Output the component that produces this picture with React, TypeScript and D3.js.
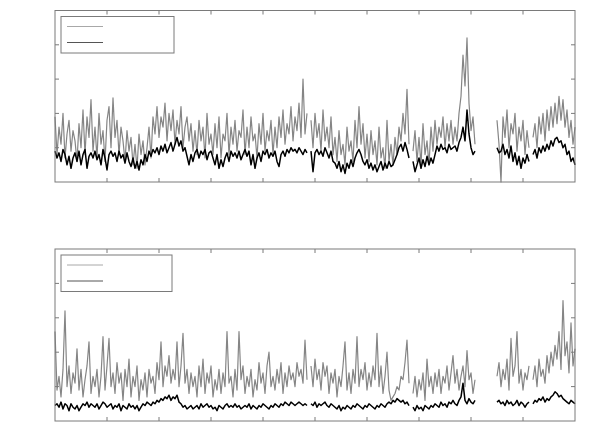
import { line, scaleLinear } from 'd3';

const width = 589;
const height = 439;
const left = 55;
const right = 575;

// y values of the two traces in each panel, sampled evenly; null = no data
const topGrey = [
  1.9, 0.8, 1.6, 1.1, 2.0, 0.7, 1.4, 1.8, 0.9, 1.5,
  1.2, 0.6, 1.7, 1.0, 2.1, 0.8, 1.9, 1.3, 2.4, 0.9,
  1.6, 0.7, 2.0, 1.1, 1.5, 0.6, 1.8, 2.2, 1.0, 2.45,
  1.3, 1.8, 0.8, 1.6, 1.2, 0.6, 1.5, 0.9, 1.3, 0.5,
  1.1, 0.4, 1.4, 0.8, 1.2, 0.5, 1.0, 1.6, 0.7, 1.9,
  1.4, 2.2, 1.3, 1.9, 1.6, 2.3, 1.2, 2.0, 1.5, 2.1,
  1.1, 1.8, 1.4, 2.2, 1.0, 1.6, 1.9, 1.2, 1.7, 0.9,
  1.5, 0.8, 1.8, 1.2, 1.6, 0.7, 2.0, 1.1, 1.4, 0.8,
  1.7, 1.0, 1.9, 0.7, 1.4, 1.2, 2.0, 0.8, 1.6, 1.1,
  1.8, 0.9, 1.5, 1.3, 2.1, 0.8, 1.6, 1.0, 1.9, 1.2,
  1.4, 0.7, 1.7, 1.1, 2.0, 0.9, 1.5, 1.2, 1.8, 0.8,
  1.6, 1.0, 1.9, 1.3, 2.1, 1.1, 1.7, 1.4, 2.2, 1.2,
  1.9, 1.5, 2.3, 1.3, 3.0, 1.4, 2.0,
  null,
  1.8, 1.0, 2.0, 1.3, 1.7, 0.9, 2.1, 1.2, 1.6, 1.0, 1.9, 0.8,
  1.3, 0.6, 1.5, 0.8, 1.1, 0.5, 1.6, 0.9, 1.2, 0.6,
  1.8, 1.0, 2.2, 1.1, 1.7, 0.7, 1.4, 0.6, 1.5, 0.8,
  1.2, 0.5, 1.6, 0.7, 1.0, 0.4, 1.8, 0.6, 1.1, 0.5,
  1.3, 0.8, 1.6, 1.2, 2.0, 1.4, 2.7, 1.1,
  null,
  0.9, 1.5, 0.6, 1.3, 0.5, 1.7, 0.8, 1.2, 0.5, 1.6, 0.9,
  1.8, 1.1, 1.6, 1.3, 1.9, 1.0, 1.7, 1.2, 1.8, 1.1,
  1.6, 1.2, 2.0, 2.5, 3.7, 2.8, 4.2, 2.3, 1.5, 1.9, 1.1,
  null, null, null, null, null, null, null, null, null, null,
  1.8, 1.1, 0.0, 1.9, 1.3, 2.1, 1.0, 1.7, 1.4, 2.0, 0.9, 1.6, 1.2, 1.8, 0.8, 1.5, 1.0,
  null,
  1.3, 1.7, 1.0, 1.9, 1.4, 2.0, 1.2, 2.1, 1.5, 2.2, 1.6, 2.3, 1.7, 2.5, 1.8, 2.4, 1.6, 2.1, 1.3, 1.8, 1.1, 1.6,
];

const topBlack = [
  0.9, 0.7, 0.85, 0.6, 0.95, 0.8, 0.5, 0.75, 0.4, 0.7,
  0.85, 0.6, 0.9, 0.5, 0.8, 0.95, 0.4, 0.75, 0.85, 0.7,
  0.9, 0.65, 0.8, 0.5, 0.95, 0.7, 0.35, 0.8, 0.9, 0.75,
  0.85, 0.6, 0.9, 0.7, 0.8, 0.55, 0.85, 0.6, 0.45, 0.7,
  0.4, 0.6, 0.35, 0.65, 0.5, 0.8, 0.6, 0.9, 0.75, 0.95,
  0.85, 1.0, 0.8, 1.05, 0.9, 1.1, 0.85, 1.0, 1.15, 0.9,
  1.1, 1.3, 1.05, 1.2, 0.9, 1.0, 0.75, 0.5, 0.8, 0.6,
  0.85, 0.95, 0.7, 0.9, 0.8, 0.95, 0.65, 0.85, 0.9, 0.7,
  0.5, 0.8, 0.4, 0.65, 0.45, 0.7, 0.85, 0.6, 0.9, 0.75,
  0.85, 0.7, 0.9, 0.65, 0.8, 0.95, 0.75, 0.9, 0.5, 0.8,
  0.4, 0.7, 0.85, 0.6, 0.9, 0.8, 0.95, 0.7, 0.85, 0.75,
  0.9, 0.6, 0.45, 0.8, 0.9, 0.75, 0.95, 0.85, 1.0, 0.9,
  0.95, 0.85, 1.0, 0.9, 0.8, 0.95, 0.85,
  null,
  0.9, 0.3, 0.85, 0.95, 0.8, 0.9, 0.75, 1.0, 0.85, 0.7, 0.9, 0.6,
  0.55, 0.4, 0.6, 0.3, 0.5, 0.25, 0.55, 0.4, 0.65, 0.45,
  0.7, 0.85, 0.95, 0.8, 0.6, 0.5, 0.65, 0.4, 0.55, 0.35,
  0.5, 0.3, 0.45, 0.6, 0.35, 0.55, 0.4, 0.6, 0.45, 0.5,
  0.65, 0.8, 1.0, 1.1, 0.9, 1.15, 0.95, 0.7,
  null,
  0.6, 0.3, 0.5, 0.7, 0.4, 0.65, 0.45, 0.75, 0.5, 0.7, 0.55,
  0.8, 1.05, 0.9, 1.1, 0.95, 1.0, 0.85, 1.1, 0.95, 1.0,
  1.05, 0.9, 1.15, 1.3, 1.6, 1.2, 2.1, 1.4, 1.0, 0.8, 0.9,
  null, null, null, null, null, null, null, null, null, null,
  1.0, 0.85, 0.9, 1.1, 0.8, 0.95, 0.7, 1.05, 0.6, 0.85, 0.5, 0.75, 0.4, 0.7, 0.55, 0.8, 0.6,
  null,
  0.8, 0.95, 0.7, 1.0, 0.85, 1.05, 0.9, 1.1, 0.95, 1.2, 1.05, 1.25, 1.3, 1.15, 1.2, 1.0, 1.1, 0.8, 0.9, 0.6, 0.7, 0.5,
];

const bottomGrey = [
  2.6, 0.9, 1.3, 0.7, 1.5, 3.2, 1.0, 1.6, 0.8, 1.4,
  1.1, 2.1, 0.9, 1.5, 0.7, 1.2, 1.6, 2.3, 0.8, 1.3,
  1.0, 1.5, 0.7, 1.3, 2.45, 0.9, 1.6, 2.4, 1.0, 1.4,
  0.8, 1.7, 1.1, 1.4, 0.6, 1.5, 1.0, 1.8, 0.7, 1.3,
  1.0, 1.6, 0.6, 1.2, 0.9, 1.4, 0.7, 1.5, 1.1, 1.3,
  0.8, 1.7, 1.2, 2.3, 1.0, 1.6, 1.3, 1.9, 1.1, 1.5,
  1.2, 2.3, 1.0, 1.6, 2.55, 1.1, 1.5, 0.8, 1.4, 1.0,
  1.3, 0.7, 1.6, 1.0, 1.8, 0.8, 1.4, 1.1, 1.6, 0.7,
  1.2, 0.9, 1.5, 0.8, 1.4, 1.0, 2.6, 1.1, 1.3, 0.7,
  1.5, 0.9, 2.6, 1.2, 1.6, 0.8, 1.3, 1.0, 1.5, 0.7,
  1.2, 0.9, 1.7, 1.1, 1.4, 0.8, 1.6, 2.0, 1.0, 1.3,
  0.9, 1.5, 1.1, 1.7, 0.8, 1.4, 1.0, 1.6, 1.2, 1.4,
  1.0, 1.7, 1.3, 1.5, 1.1, 2.35, 1.2,
  null,
  1.6, 1.0, 1.8, 1.2, 1.5, 0.9, 1.7, 1.3, 1.6, 0.8, 1.4, 1.1,
  1.5, 0.7, 1.3, 1.0, 1.6, 2.3, 0.9, 1.4, 0.8, 1.5,
  1.1, 2.45, 1.0, 1.5, 1.2, 1.7, 0.9, 1.4, 1.0, 1.6,
  1.2, 2.55, 1.0, 1.6, 0.8, 1.3, 2.0, 0.9, 0.6, 0.7,
  0.8, 1.0, 0.9, 1.3, 1.2, 1.7, 2.35, 1.1,
  null,
  0.8, 1.3, 0.7, 1.2, 0.9, 1.4, 0.6, 1.8, 1.0, 1.3, 0.8,
  1.4, 1.0, 1.5, 0.8, 1.3, 1.1, 1.6, 0.9, 1.4, 1.9,
  1.1, 1.5, 0.9, 1.3, 1.6, 1.0, 2.05, 1.2, 1.4, 0.8, 1.2,
  null, null, null, null, null, null, null, null, null, null,
  1.3, 1.7, 1.0, 1.5, 1.2, 1.8, 0.9, 2.4, 1.3, 1.6, 2.6, 1.1, 1.5, 0.9, 1.4, 1.2, 1.6,
  null,
  1.2, 1.6, 1.0, 1.8, 1.3, 1.5, 1.1, 1.9, 1.4, 2.0, 1.6, 2.2, 1.8, 2.6, 1.5, 3.5, 1.9, 2.3, 1.4, 2.85, 1.6, 2.1,
];

const bottomBlack = [
  0.45, 0.5, 0.4, 0.55, 0.35, 0.5, 0.45, 0.3, 0.5, 0.4,
  0.35, 0.45, 0.3, 0.4, 0.5, 0.45, 0.55, 0.4, 0.5, 0.45,
  0.4, 0.5, 0.35, 0.45, 0.55, 0.5, 0.4, 0.45, 0.5, 0.35,
  0.45, 0.4, 0.5, 0.3, 0.45, 0.4, 0.35, 0.5, 0.4, 0.45,
  0.35, 0.45, 0.3, 0.4, 0.5, 0.45, 0.55, 0.5, 0.45, 0.55,
  0.5, 0.6, 0.55, 0.65, 0.6, 0.7, 0.65, 0.75, 0.6, 0.7,
  0.65, 0.75, 0.55, 0.5, 0.4, 0.45, 0.35, 0.4, 0.45, 0.35,
  0.4, 0.45, 0.35, 0.5, 0.4, 0.45, 0.5, 0.4, 0.45, 0.35,
  0.4, 0.3, 0.45, 0.4, 0.35, 0.45, 0.5, 0.4, 0.45, 0.4,
  0.5, 0.4, 0.45, 0.35, 0.4, 0.45, 0.4, 0.5, 0.35, 0.45,
  0.4, 0.35, 0.45, 0.4, 0.5, 0.45, 0.4, 0.35, 0.45, 0.4,
  0.5, 0.45, 0.4, 0.5, 0.45, 0.55, 0.5, 0.45, 0.55, 0.5,
  0.45, 0.5, 0.55, 0.5, 0.45, 0.5, 0.45,
  null,
  0.5, 0.45, 0.55, 0.4, 0.5, 0.45, 0.5, 0.55, 0.45, 0.4, 0.5, 0.45,
  0.4, 0.35, 0.45, 0.3, 0.4, 0.35, 0.45, 0.4, 0.35, 0.45,
  0.4, 0.5, 0.45, 0.4, 0.35, 0.45, 0.4, 0.5, 0.45, 0.4,
  0.35, 0.45, 0.4, 0.5, 0.45, 0.4, 0.5, 0.55, 0.5, 0.6,
  0.55, 0.65, 0.6, 0.55, 0.6, 0.5, 0.55, 0.45,
  null,
  0.4, 0.3, 0.45, 0.35, 0.4, 0.3, 0.45, 0.4, 0.35, 0.45, 0.4,
  0.5, 0.45, 0.4, 0.55, 0.45, 0.5, 0.4, 0.55, 0.5, 0.6,
  0.5, 0.45, 0.6, 0.7, 1.1, 0.6, 0.5, 0.65, 0.55, 0.5, 0.6,
  null, null, null, null, null, null, null, null, null, null,
  0.55, 0.6, 0.5, 0.55, 0.45, 0.6, 0.5, 0.55, 0.45, 0.5, 0.6, 0.45, 0.55, 0.5, 0.4, 0.5, 0.55,
  null,
  0.5, 0.6, 0.55, 0.65, 0.6, 0.7, 0.55, 0.65, 0.6, 0.7, 0.75, 0.85, 0.8, 0.7, 0.75, 0.65, 0.6, 0.55, 0.5, 0.6, 0.55, 0.5,
];

const xTickValues = [1, 2, 3, 4, 5, 6, 7, 8, 9];
const yTickValues = [1, 2, 3, 4];

const frameColor = '#7a7a7a';

type Series = (number | null)[];

const x = scaleLinear().domain([0, topGrey.length - 1]).range([left, right]);
const xTick = scaleLinear().domain([0, 10]).range([left, right]);

const Panel = ({ top, bottom, grey, black, legendW }: { top: number; bottom: number; grey: Series; black: Series; legendW: number }) => {
  const y = scaleLinear().domain([0, 5]).range([bottom, top]);
  const path = line<number | null>()
    .defined(d => d !== null)
    .x((_, i) => x(i))
    .y(d => y(d as number));
  const lx = left + 6;
  const ly = top + 6;
  return (
    <g>
      <rect x={left} y={top} width={right - left} height={bottom - top} fill="#fff" />
      <path d={path(grey) || ''} fill="none" stroke="#858585" strokeWidth={1.2} strokeLinejoin="round" />
      <path d={path(black) || ''} fill="none" stroke="#000" strokeWidth={1.5} strokeLinejoin="round" />
      <rect x={left} y={top} width={right - left} height={bottom - top} fill="none" stroke={frameColor} strokeWidth={1} />
      {xTickValues.map(t => (
        <g key={'x' + t}>
          <line x1={xTick(t)} x2={xTick(t)} y1={bottom} y2={bottom - 4} stroke={frameColor} />
          <line x1={xTick(t)} x2={xTick(t)} y1={top} y2={top + 4} stroke={frameColor} />
        </g>
      ))}
      {yTickValues.map(t => (
        <g key={'y' + t}>
          <line x1={left} x2={left + 4} y1={y(t)} y2={y(t)} stroke={frameColor} />
          <line x1={right} x2={right - 4} y1={y(t)} y2={y(t)} stroke={frameColor} />
        </g>
      ))}
      <rect x={lx} y={ly} width={legendW} height={36.5} fill="#fff" stroke={frameColor} strokeWidth={1} />
      <line x1={lx + 6} x2={lx + 42} y1={ly + 10} y2={ly + 10} stroke="#a8a8a8" strokeWidth={1} />
      <line x1={lx + 6} x2={lx + 42} y1={ly + 26} y2={ly + 26} stroke="#555" strokeWidth={1} />
    </g>
  );
};

const App = () => {
  return (
    <svg width={width} height={height} style={{ position: 'absolute', left: 0, top: 0 }}>
      <rect width={width} height={height} fill="#fff" />
      <Panel top={10.5} bottom={182} grey={topGrey} black={topBlack} legendW={113} />
      <Panel top={249} bottom={421} grey={bottomGrey} black={bottomBlack} legendW={111} />
    </svg>
  );
};

export default App;
